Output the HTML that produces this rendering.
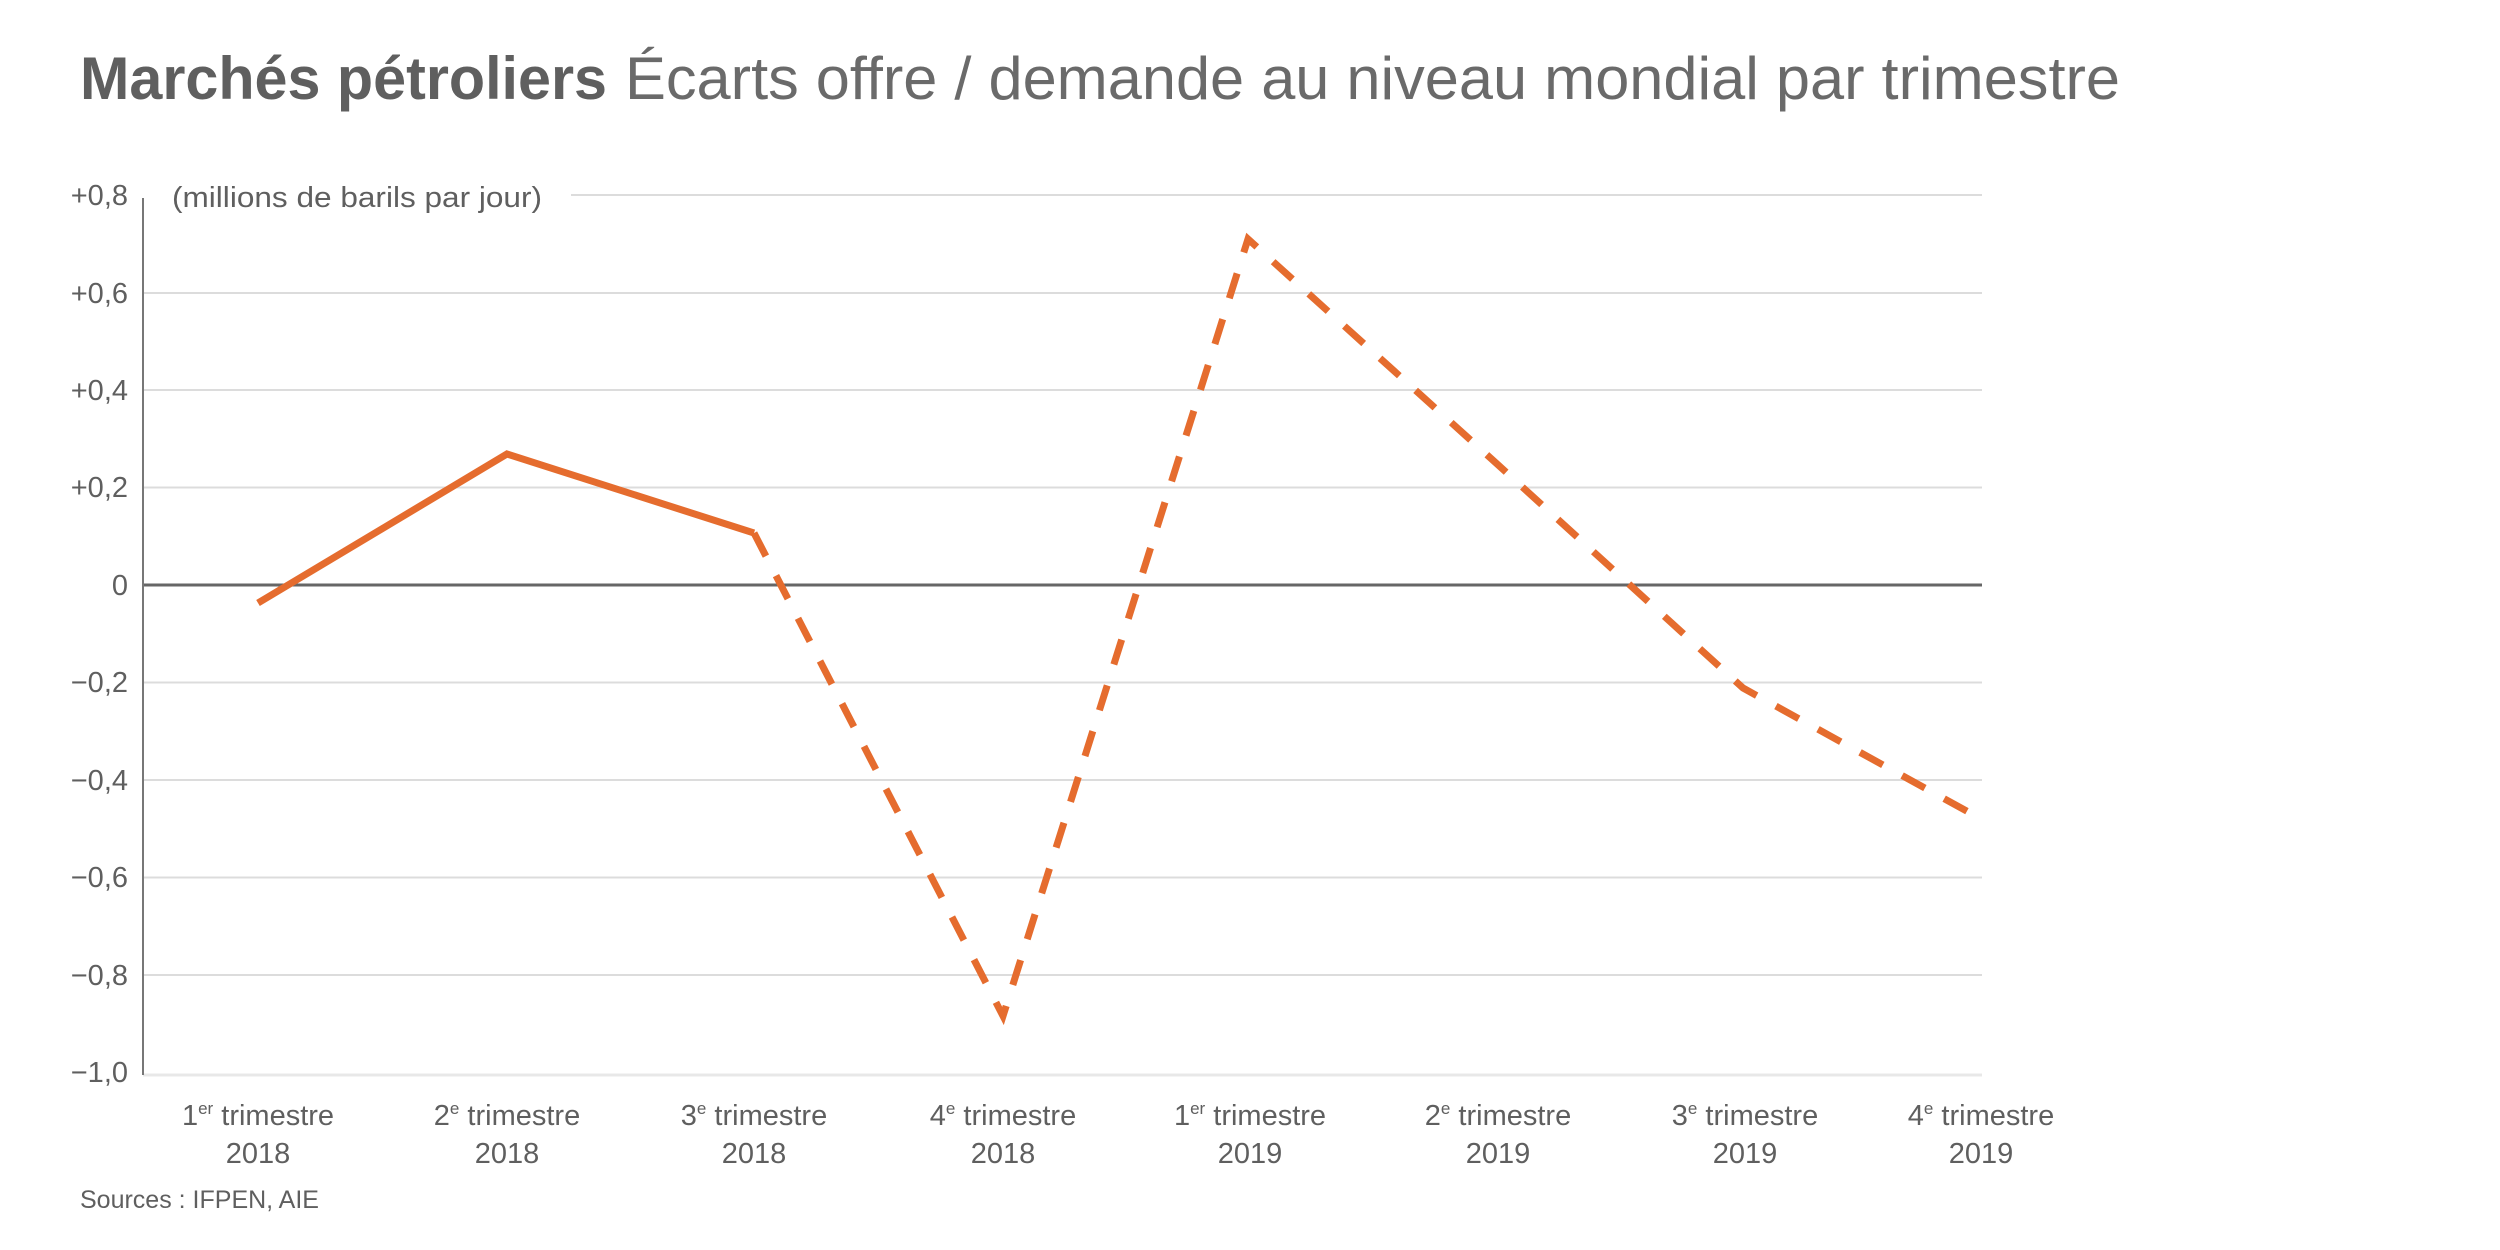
<!DOCTYPE html>
<html><head><meta charset="utf-8"><style>
html,body{margin:0;padding:0;background:#fff;}
svg{display:block;}
</style></head><body>
<svg width="2500" height="1250" viewBox="0 0 2500 1250" xmlns="http://www.w3.org/2000/svg" font-family="Liberation Sans, Arial, sans-serif">
<text x="80" y="99" font-size="60" font-weight="bold" fill="#5f5f5f" textLength="527" lengthAdjust="spacingAndGlyphs">Marchés pétroliers</text>
<text x="625" y="99" font-size="60" fill="#6a6a6a" textLength="1495" lengthAdjust="spacingAndGlyphs">Écarts offre / demande au niveau mondial par trimestre</text>
<g stroke="#dcdcdc" stroke-width="2">
<line x1="571" y1="195" x2="1982" y2="195"/>
<line x1="143" y1="293" x2="1982" y2="293"/>
<line x1="143" y1="390" x2="1982" y2="390"/>
<line x1="143" y1="487.5" x2="1982" y2="487.5"/>
<line x1="143" y1="682.5" x2="1982" y2="682.5"/>
<line x1="143" y1="780" x2="1982" y2="780"/>
<line x1="143" y1="877.5" x2="1982" y2="877.5"/>
<line x1="143" y1="975" x2="1982" y2="975"/>
<line x1="143" y1="1075" x2="1982" y2="1075" stroke="#e8e8e8" stroke-width="3"/>
</g>
<line x1="143" y1="585" x2="1982" y2="585" stroke="#666" stroke-width="3"/>
<line x1="143" y1="198" x2="143" y2="1075" stroke="#777" stroke-width="2"/>
<g font-size="29" fill="#5f5f5f" text-anchor="end">
<text x="128" y="205">+0,8</text>
<text x="128" y="303">+0,6</text>
<text x="128" y="400">+0,4</text>
<text x="128" y="497">+0,2</text>
<text x="128" y="595">0</text>
<text x="128" y="692">−0,2</text>
<text x="128" y="790">−0,4</text>
<text x="128" y="887">−0,6</text>
<text x="128" y="985">−0,8</text>
<text x="128" y="1082">−1,0</text>
</g>
<text x="172" y="207" font-size="29" fill="#5f5f5f" textLength="370" lengthAdjust="spacingAndGlyphs">(millions de barils par jour)</text>
<g fill="none" stroke="#e56c2e" stroke-width="7">
<polyline points="258,603 507,454 754,533" stroke-linejoin="miter"/>
<polyline points="754,533 1003,1016 1248,239 1496,463 1743,688 1983,820" stroke-dasharray="26 22"/>
</g>
<g font-size="29" fill="#5f5f5f" text-anchor="middle">
<text x="258" y="1125">1<tspan font-size="17" dy="-11">er</tspan><tspan dy="11"> trimestre</tspan></text>
<text x="258" y="1163">2018</text>
<text x="507" y="1125">2<tspan font-size="17" dy="-11">e</tspan><tspan dy="11"> trimestre</tspan></text>
<text x="507" y="1163">2018</text>
<text x="754" y="1125">3<tspan font-size="17" dy="-11">e</tspan><tspan dy="11"> trimestre</tspan></text>
<text x="754" y="1163">2018</text>
<text x="1003" y="1125">4<tspan font-size="17" dy="-11">e</tspan><tspan dy="11"> trimestre</tspan></text>
<text x="1003" y="1163">2018</text>
<text x="1250" y="1125">1<tspan font-size="17" dy="-11">er</tspan><tspan dy="11"> trimestre</tspan></text>
<text x="1250" y="1163">2019</text>
<text x="1498" y="1125">2<tspan font-size="17" dy="-11">e</tspan><tspan dy="11"> trimestre</tspan></text>
<text x="1498" y="1163">2019</text>
<text x="1745" y="1125">3<tspan font-size="17" dy="-11">e</tspan><tspan dy="11"> trimestre</tspan></text>
<text x="1745" y="1163">2019</text>
<text x="1981" y="1125">4<tspan font-size="17" dy="-11">e</tspan><tspan dy="11"> trimestre</tspan></text>
<text x="1981" y="1163">2019</text>
</g>
<text x="80" y="1208" font-size="25" fill="#5f5f5f">Sources : IFPEN, AIE</text>
</svg>
</body></html>
